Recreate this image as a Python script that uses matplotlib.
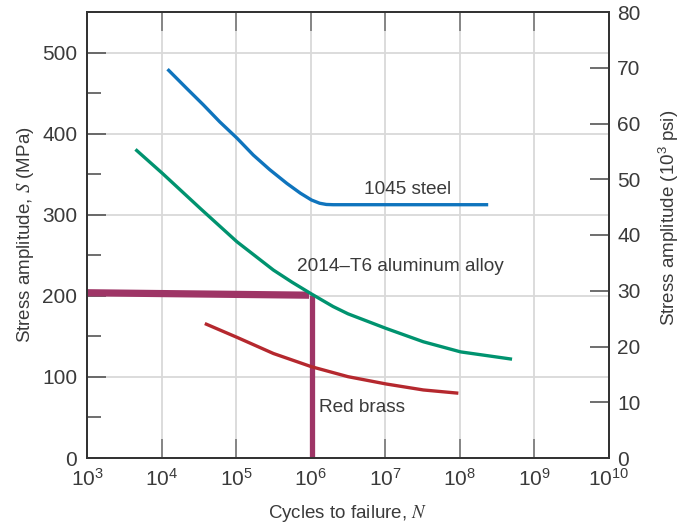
import numpy as np
import matplotlib
matplotlib.use("Agg")
import matplotlib.pyplot as plt
from matplotlib.ticker import MultipleLocator, NullLocator

plt.rcParams['font.family'] = ['Liberation Sans', 'DejaVu Sans']
plt.rcParams['mathtext.fontset'] = 'stix'
plt.rcParams['mathtext.default'] = 'regular'

# data: log10(cycles) and stress in MPa
steel_logn = [4.08, 4.34, 4.56, 4.78, 5.01, 5.23, 5.45, 5.68, 5.86, 6.01, 6.12, 6.21, 6.30, 8.38]
steel_s = [480, 456, 436, 415, 395, 374, 356, 339, 327, 318.5, 314.5, 313, 312.7, 312.7]

alu_logn = [3.65, 4.01, 4.52, 5.01, 5.50, 5.75, 6.01, 6.30, 6.50, 7.01, 7.51, 8.01, 8.70]
alu_s = [381, 351.5, 308, 267, 232, 217, 202.5, 187, 178, 160, 143.5, 131, 122]

brass_logn = [4.58, 5.01, 5.50, 6.01, 6.50, 7.01, 7.51, 7.98]
brass_s = [166, 149, 129, 112.7, 100.4, 91.4, 84, 80]

# fatigue-strength lookup at 10^6 cycles
guide_h_n = [1e3, 9.5e5]
guide_h_s = [204, 201]
guide_v_n = [1.04e6, 1.04e6]
guide_v_s = [201, 0]

x_ticks = [1e3, 1e4, 1e5, 1e6, 1e7, 1e8, 1e9, 1e10]
labels = ["1045 steel", "2014\u2013T6 aluminum alloy", "Red brass"]

txt = "#3a3a3a"
fig = plt.figure(figsize=(6.86, 5.25), dpi=100)
ax = fig.add_axes([87/686, 67/525, 522/686, 446/525])

ax.set_xscale("log")
ax.set_xlim(1e3, 1e10)
ax.set_ylim(0, 550.6)

ax.grid(True, which="major", color="#d9d9d9", linewidth=1.3, zorder=0)
ax.set_axisbelow(True)

lw = 2.4
ax.plot(10 ** np.array(steel_logn), steel_s, color="#0f74bd", linewidth=lw,
        solid_capstyle="butt", solid_joinstyle="round", zorder=3)
ax.plot(10 ** np.array(alu_logn), alu_s, color="#00936f", linewidth=lw,
        solid_capstyle="butt", solid_joinstyle="round", zorder=3)
ax.plot(10 ** np.array(brass_logn), brass_s, color="#b5282e", linewidth=lw,
        solid_capstyle="butt", solid_joinstyle="round", zorder=3)
ax.plot(guide_h_n, guide_h_s, color="#9e3566", linewidth=5.2, solid_capstyle="butt", zorder=2)
ax.plot(guide_v_n, guide_v_s, color="#9e3566", linewidth=3.8, solid_capstyle="butt", zorder=2)

ax.text(2.0e7, 332, labels[0], fontsize=13.7, color=txt, ha="center", va="center")
ax.text(1.57e7, 236, labels[1], fontsize=13.7, color=txt, ha="center", va="center")
ax.text(1.3e6, 62, labels[2], fontsize=13.7, color=txt, ha="left", va="center")

ax.set_xticks(x_ticks)
ax.xaxis.set_minor_locator(NullLocator())
ax.yaxis.set_major_locator(MultipleLocator(100))
ax.yaxis.set_minor_locator(MultipleLocator(50))

ax.tick_params(axis="x", which="major", direction="in", length=14, width=1.2,
               color="#777777", top=True, labelsize=15, labelcolor=txt, pad=7)
ax.tick_params(axis="y", which="major", direction="in", length=14, width=1.2,
               color="#555555", labelsize=15, labelcolor=txt, pad=7)
ax.tick_params(axis="y", which="minor", direction="in", length=10, width=1.2,
               color="#555555")

for sp in ax.spines.values():
    sp.set_color("#333333")
    sp.set_linewidth(1.3)

ax.set_xlabel("Cycles to failure, $\\mathit{N}$", fontsize=13.5, color=txt)
ax.xaxis.set_label_coords(0.5, -0.1)
ax.set_ylabel("Stress amplitude, $\\mathit{S}$ (MPa)", fontsize=13.5, color=txt)
ax.yaxis.set_label_coords(-0.098, 0.5)

ax2 = ax.twinx()
ax2.set_ylim(0, 80)
ax2.yaxis.set_major_locator(MultipleLocator(10))
ax2.tick_params(axis="y", direction="in", length=14, width=1.2, color="#555555",
                labelsize=15, labelcolor=txt, pad=6)
for sp in ax2.spines.values():
    sp.set_color("#333333")
    sp.set_linewidth(1.3)
ax2.set_ylabel("Stress amplitude (10$^3$ psi)", fontsize=13.5, color=txt)
ax2.yaxis.set_label_coords(1.092, 0.538)

fig.savefig("out.png", dpi=100)
